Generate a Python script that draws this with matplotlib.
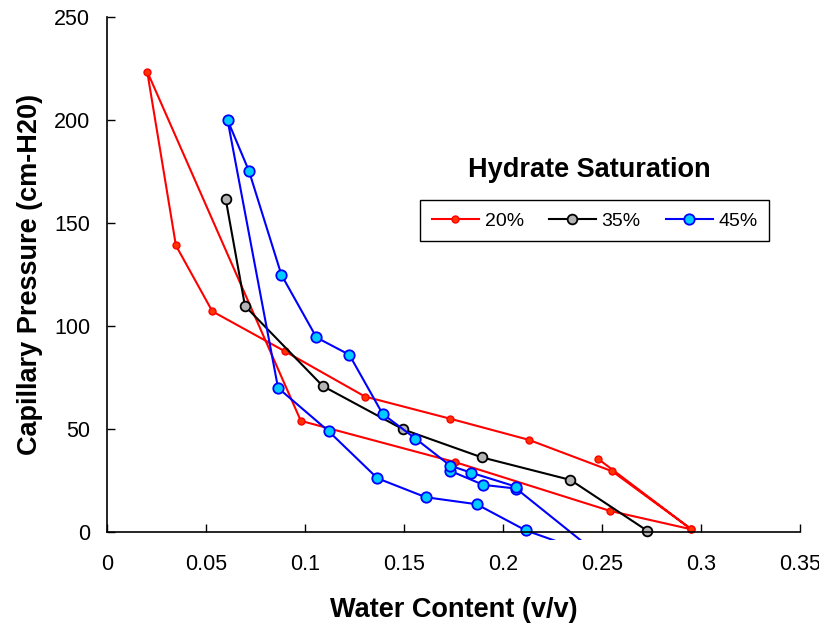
import matplotlib

matplotlib.use("Agg")
import matplotlib.pyplot as plt
from matplotlib.patches import Rectangle

# 20% hydrate saturation (imbibition then drainage, one trace)
wc_20 = [0.2481, 0.2952, 0.2543, 0.176, 0.0979, 0.0203, 0.0348, 0.0532, 0.090, 0.1303, 0.1735, 0.213, 0.2552, 0.2952]
pc_20 = [35.3, 1.1, 10.0, 33.7, 53.8, 223.5, 139.0, 107.0, 87.5, 65.6, 54.8, 44.6, 29.3, 1.1]

# 35% hydrate saturation
wc_35 = [0.0599, 0.0697, 0.109, 0.1497, 0.1892, 0.2341, 0.2729]
pc_35 = [161.8, 109.6, 70.7, 49.6, 36.1, 25.1, 0.4]

# 45% hydrate saturation (one point falls below the axis and is clipped)
wc_45 = [0.1734, 0.1901, 0.2067, 0.250, 0.2115, 0.1867, 0.161, 0.1366, 0.1119, 0.0864,
         0.0609, 0.0717, 0.0881, 0.1058, 0.1224, 0.1392, 0.1558, 0.1734, 0.184, 0.2067]
pc_45 = [29.5, 22.7, 20.9, -12.5, 0.6, 13.3, 16.7, 25.9, 48.8, 69.8,
         199.9, 175.2, 124.7, 94.3, 85.9, 57.2, 45.2, 32.0, 28.6, 21.8]

plt.rcParams["font.family"] = ["Liberation Sans", "DejaVu Sans"]

fig = plt.figure(figsize=(8.2, 6.28), dpi=100)
ax = fig.add_axes([0.1305, 0.1535, 0.845, 0.8195])

# plot area in the original lets lines run a few pixels past the x axis
clip = Rectangle((-0.01, -0.016), 1.02, 1.03, transform=ax.transAxes,
                 facecolor="none", edgecolor="none")
ax.add_patch(clip)

series = [
    (wc_20, pc_20, dict(color="red", ms=5, mfc="#FF3300", mec="red", mew=1, label="20%")),
    (wc_35, pc_35, dict(color="black", ms=7, mfc="#B4B4B4", mec="black", mew=1.3, label="35%")),
    (wc_45, pc_45, dict(color="#0000FF", ms=7.5, mfc="#00CCFF", mec="#0000FF", mew=1.3, label="45%")),
]
for wc, pc, style in series:
    (line,) = ax.plot(wc, pc, lw=1.5, marker="o", **style)
    line.set_clip_path(clip)

ax.set_xlim(0, 0.35)
ax.set_ylim(0, 250)
ax.set_xticks([0, 0.05, 0.1, 0.15, 0.2, 0.25, 0.3, 0.35])
ax.set_xticklabels(["0", "0.05", "0.1", "0.15", "0.2", "0.25", "0.3", "0.35"])
ax.set_yticks([0, 50, 100, 150, 200, 250])
ax.tick_params(direction="in", length=6, width=1, labelsize=15.5)
ax.tick_params(axis="x", pad=16)
ax.tick_params(axis="y", pad=12)
for side in ["top", "right"]:
    ax.spines[side].set_visible(False)
for side in ["left", "bottom"]:
    ax.spines[side].set_linewidth(1.2)

ax.set_xlabel("Water Content (v/v)", fontsize=19.5, fontweight="bold", labelpad=16)
ax.set_ylabel("Capillary Pressure (cm-H20)", fontsize=19.5, fontweight="bold", labelpad=8)

ax.text(0.6955, 0.703, "Hydrate Saturation", transform=ax.transAxes,
        ha="center", va="center", fontsize=19.5, fontweight="bold")
leg = ax.legend(loc="center", bbox_to_anchor=(0.704, 0.6036), ncol=3, fontsize=14,
                frameon=True, fancybox=False, edgecolor="black", framealpha=1,
                handlelength=2.4, handletextpad=0.3, columnspacing=1.3,
                borderpad=0.6, borderaxespad=0)
leg.get_frame().set_linewidth(1.0)

fig.savefig("out.png", dpi=100)
